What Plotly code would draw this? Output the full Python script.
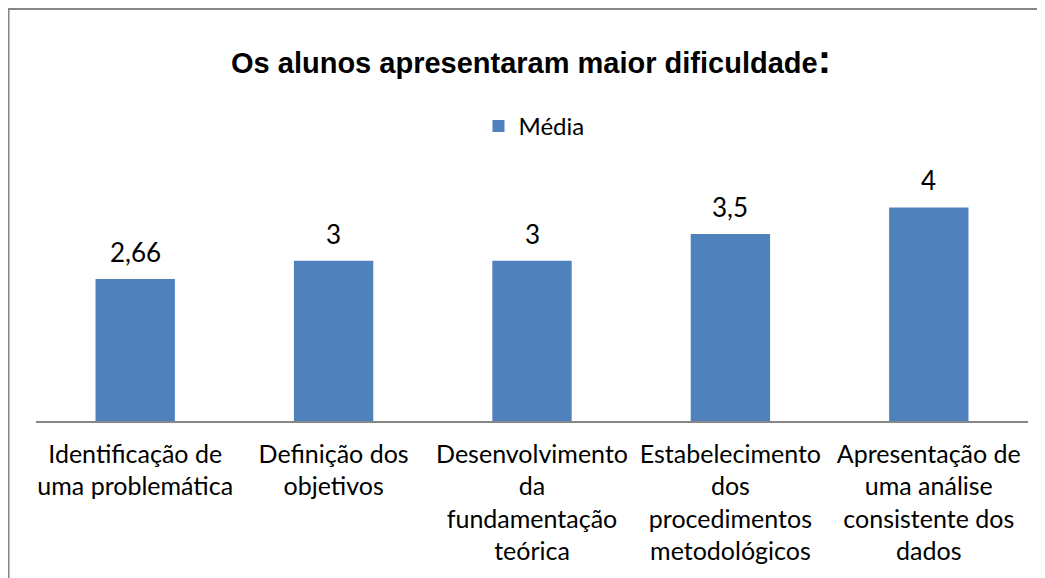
import plotly.graph_objects as go

categorias = [
    "Identificação de<br>uma problemática",
    "Definição dos<br>objetivos",
    "Desenvolvimento<br>da<br>fundamentação<br>teórica",
    "Estabelecimento<br>dos<br>procedimentos<br>metodológicos",
    "Apresentação de<br>uma análise<br>consistente dos<br>dados",
]
media = [2.66, 3, 3, 3.5, 4]
rotulos = ["2,66", "3", "3", "3,5", "4"]

azul = "#4F81BD"
cinza = "#868686"
fonte = "Lato, 'Open Sans', sans-serif"

fig = go.Figure()
fig.add_trace(go.Bar(
    x=categorias,
    y=media,
    name="Média",
    marker=dict(color=azul, line=dict(width=0)),
))

# value labels above the bars
for c, v, r in zip(categorias, media, rotulos):
    fig.add_annotation(x=c, y=v, text=r, showarrow=False,
                       yanchor="bottom", yshift=9,
                       font=dict(size=26, color="#000000", family=fonte))

# outer frame (only top and left edges fall inside the picture)
fig.add_shape(type="rect", xref="paper", yref="paper",
              x0=-0.0277, x1=1.2, y0=-1, y1=1.543,
              line=dict(color=cinza, width=2))

fig.update_layout(
    width=1045, height=578,
    margin=dict(l=28, r=25, t=146, b=165),
    paper_bgcolor="white", plot_bgcolor="white",
    separators=", ",
    bargap=0.6,
    title=dict(
        text="<b>Os alunos apresentaram maior dificuldade<span style='font-size:40px'>:</span></b>",
        x=0.5005, xanchor="center", y=0.905, yanchor="middle",
        font=dict(family="'Liberation Sans', Arial, sans-serif", size=29, color="#000000"),
    ),
    showlegend=True,
    legend=dict(orientation="h", x=0.502, xanchor="center", y=1.103, yanchor="middle",
                font=dict(family=fonte, size=24, color="#000000"),
                itemwidth=30, itemsizing="constant"),
    xaxis=dict(showline=True, linecolor=cinza, linewidth=1.5,
               ticks="outside", ticklen=10, tickcolor="rgba(0,0,0,0)",
               tickfont=dict(family=fonte, size=25, color="#000000"),
               showgrid=False),
    yaxis=dict(range=[0, 5], visible=False, showgrid=False, zeroline=False),
)

fig.write_html("out.html")
